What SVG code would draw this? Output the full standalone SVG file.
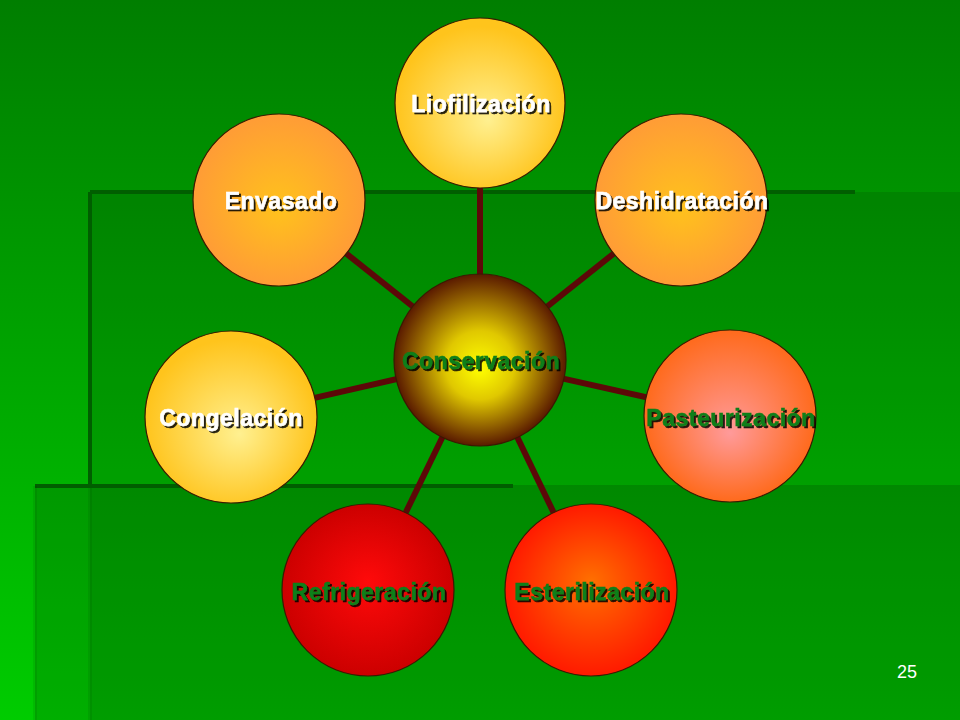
<svg xmlns="http://www.w3.org/2000/svg" width="960" height="720" viewBox="0 0 960 720">
  <defs>
    <linearGradient id="bg" x1="0" y1="0" x2="0" y2="1">
      <stop offset="0" stop-color="#007e00"/>
      <stop offset="1" stop-color="#00cc00"/>
    </linearGradient>
    <radialGradient id="gYellow" cx="0.5" cy="0.55" r="0.5" fx="0.55" fy="0.6">
      <stop offset="0" stop-color="#fff090"/>
      <stop offset="1" stop-color="#ffc41c"/>
    </radialGradient>
    <radialGradient id="gOrange" cx="0.5" cy="0.5" r="0.5" fx="0.5" fy="0.55">
      <stop offset="0" stop-color="#ffc21c"/>
      <stop offset="1" stop-color="#ff9c36"/>
    </radialGradient>
    <radialGradient id="gPink" cx="0.5" cy="0.5" r="0.5" fx="0.5" fy="0.6">
      <stop offset="0" stop-color="#ff9a9a"/>
      <stop offset="1" stop-color="#ff6a1c"/>
    </radialGradient>
    <radialGradient id="gRed" cx="0.5" cy="0.5" r="0.5" fx="0.5" fy="0.45">
      <stop offset="0" stop-color="#ff0a0a"/>
      <stop offset="1" stop-color="#cc0000"/>
    </radialGradient>
    <radialGradient id="gRedOrange" cx="0.5" cy="0.5" r="0.5" fx="0.5" fy="0.45">
      <stop offset="0" stop-color="#ff7000"/>
      <stop offset="1" stop-color="#ff1a00"/>
    </radialGradient>
    <radialGradient id="gCenter" cx="0.5" cy="0.5" r="0.5" fx="0.5" fy="0.55">
      <stop offset="0" stop-color="#ffff00"/>
      <stop offset="0.4" stop-color="#e0c800"/>
      <stop offset="1" stop-color="#5a1a00"/>
    </radialGradient>
    <filter id="shadow" x="-10%" y="-30%" width="120%" height="160%">
      <feDropShadow dx="2" dy="2" stdDeviation="0.6" flood-color="#000000" flood-opacity="0.85"/>
    </filter>
  </defs>
  <style>
    .node { stroke: #3a1a00; stroke-width: 1.2; }
    .lbl { font-family: "Liberation Sans", Arial, sans-serif; font-weight: bold; font-size: 23px; letter-spacing: 0.5px; text-anchor: middle; filter: url(#shadow); stroke-width: 0.5; }
    .w { fill: #ffffff; stroke: #ffffff; }
    .g { fill: #0f7f1a; stroke: #0f7f1a; }
    .conn line { stroke: #5c0808; stroke-width: 6; }
    .edge { fill: #005e00; }
  </style>

  <!-- background -->
  <rect x="0" y="0" width="960" height="720" fill="url(#bg)"/>
  <rect x="90" y="192" width="870" height="528" fill="#000000" fill-opacity="0.1"/>
  <rect x="35" y="485" width="925" height="235" fill="#000000" fill-opacity="0.14"/>
  <rect class="edge" x="90" y="190" width="765" height="4"/>
  <rect class="edge" x="88" y="192" width="4" height="293"/>
  <rect x="88" y="485" width="4" height="235" fill="#000000" fill-opacity="0.07"/>
  <rect class="edge" x="35" y="484" width="478" height="4"/>
  <rect x="33" y="486" width="4" height="234" fill="#000000" fill-opacity="0.07"/>

  <!-- connectors -->
  <g id="connectors" class="conn">
    <line x1="480" y1="360" x2="480" y2="103"/>
    <line x1="480" y1="360" x2="279" y2="200"/>
    <line x1="480" y1="360" x2="681" y2="200"/>
    <line x1="480" y1="360" x2="231" y2="417"/>
    <line x1="480" y1="360" x2="730" y2="416"/>
    <line x1="480" y1="360" x2="368" y2="590"/>
    <line x1="480" y1="360" x2="591" y2="590"/>
  </g>

  <g id="liofilizacion">
    <circle class="node" cx="480" cy="103" r="85" fill="url(#gYellow)"/>
    <text class="lbl w" x="481" y="112">Liofilización</text>
  </g>
  <g id="envasado">
    <circle class="node" cx="279" cy="200" r="86" fill="url(#gOrange)"/>
    <text class="lbl w" x="281" y="209">Envasado</text>
  </g>
  <g id="deshidratacion">
    <circle class="node" cx="681" cy="200" r="86" fill="url(#gOrange)"/>
    <text class="lbl w" x="682" y="209">Deshidratación</text>
  </g>
  <g id="congelacion">
    <circle class="node" cx="231" cy="417" r="86" fill="url(#gYellow)"/>
    <text class="lbl w" x="231" y="426">Congelación</text>
  </g>
  <g id="pasteurizacion">
    <circle class="node" cx="730" cy="416" r="86" fill="url(#gPink)"/>
    <text class="lbl g" x="731" y="426">Pasteurización</text>
  </g>
  <g id="refrigeracion">
    <circle class="node" cx="368" cy="590" r="86" fill="url(#gRed)"/>
    <text class="lbl g" x="369" y="600">Refrigeración</text>
  </g>
  <g id="esterilizacion">
    <circle class="node" cx="591" cy="590" r="86" fill="url(#gRedOrange)"/>
    <text class="lbl g" x="592" y="600">Esterilización</text>
  </g>
  <g id="conservacion">
    <circle class="node" cx="480" cy="360" r="86" fill="url(#gCenter)"/>
    <text class="lbl g" x="481" y="369">Conservación</text>
  </g>

  <text x="907" y="678" font-family="Liberation Sans, Arial, sans-serif" font-size="18" fill="#ffffff" text-anchor="middle">25</text>
</svg>
